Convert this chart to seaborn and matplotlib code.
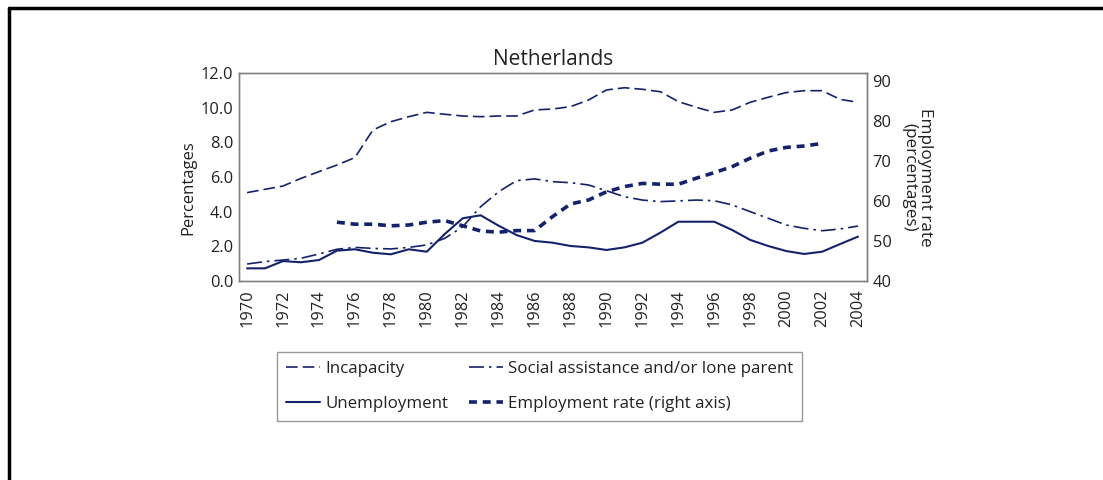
import numpy as np
import pandas as pd
import matplotlib
matplotlib.use("Agg")
import matplotlib.pyplot as plt
from matplotlib.lines import Line2D
import seaborn as sns

# Netherlands: benefit recipients (% of working-age population) and employment rate
years = list(range(1970, 2005))

incapacity = [5.10, 5.29, 5.48, 5.92, 6.31, 6.69, 7.12, 8.71, 9.19, 9.48,
              9.73, 9.62, 9.52, 9.48, 9.52, 9.52, 9.87, 9.92, 10.06, 10.44,
              11.02, 11.15, 11.06, 10.92, 10.35, 10.02, 9.73, 9.87, 10.31, 10.60,
              10.87, 10.98, 10.98, 10.48, 10.31]

social_assistance = [0.98, 1.12, 1.21, 1.31, 1.56, 1.83, 1.94, 1.88, 1.85, 1.94,
                     2.08, 2.46, 3.13, 4.29, 5.15, 5.79, 5.89, 5.73, 5.67, 5.54,
                     5.21, 4.86, 4.67, 4.58, 4.62, 4.67, 4.63, 4.39, 4.00, 3.62,
                     3.23, 3.04, 2.90, 3.00, 3.17]

unemployment = [0.73, 0.73, 1.15, 1.08, 1.21, 1.75, 1.83, 1.63, 1.54, 1.83,
                1.69, 2.71, 3.62, 3.79, 3.19, 2.65, 2.31, 2.21, 2.02, 1.94,
                1.79, 1.94, 2.21, 2.79, 3.42, 3.42, 3.42, 2.94, 2.37, 2.02,
                1.73, 1.56, 1.69, 2.13, 2.56]

emp_years = list(range(1975, 2003))
employment_rate = [54.7, 54.2, 54.2, 53.8, 54.0, 54.7, 55.1, 53.8, 52.5, 52.2,
                   52.6, 52.6, 56.1, 59.25, 60.25, 62.3, 63.6, 64.4, 64.2, 64.2,
                   65.7, 67.1, 68.6, 70.7, 72.5, 73.4, 73.75, 74.4]

labels = ["Incapacity", "Social assistance and/or lone parent",
          "Unemployment", "Employment rate (right axis)"]

left_df = pd.DataFrame({
    "year": years * 3,
    "value": incapacity + social_assistance + unemployment,
    "series": [labels[0]] * len(years) + [labels[1]] * len(years) + [labels[2]] * len(years),
})
right_df = pd.DataFrame({"year": emp_years, "value": employment_rate,
                         "series": labels[3]})

sns.set_style("white")
plt.rcParams["font.family"] = ["Open Sans", "DejaVu Sans"]

navy = "#14226b"
gray = "#808080"
txt = "#222222"

fig = plt.figure(figsize=(11.03, 4.80), dpi=100)
ax = fig.add_axes([239 / 1103, 1 - 281 / 480, (867 - 239) / 1103, (281 - 73) / 480])
ax2 = ax.twinx()

styles = {
    labels[0]: dict(lw=1.2, dashes=(7, 3)),
    labels[1]: dict(lw=1.2, dashes=(9, 3, 1.5, 3)),
    labels[2]: dict(lw=1.5, dashes=()),
}
for name in labels[:3]:
    sub = left_df[left_df["series"] == name]
    st = styles[name]
    sns.lineplot(data=sub, x="year", y="value", ax=ax, color=navy,
                 lw=st["lw"], legend=False)
    ln = ax.lines[-1]
    if st["dashes"]:
        ln.set_dashes(st["dashes"])
    ln.set_label(name)

sns.lineplot(data=right_df, x="year", y="value", ax=ax2, color=navy,
             lw=2.6, legend=False)
ax2.lines[-1].set_dashes((2.2, 1.6))
ax2.lines[-1].set_label(labels[3])

ax.set_xlim(1969.55, 2004.5)
ax.set_ylim(0, 12)
ax2.set_ylim(40, 92)

ax.set_xticks(range(1970, 2005, 2))
ax.set_xticklabels([str(y) for y in range(1970, 2005, 2)], rotation=90)
ax.set_yticks(np.arange(0, 12.1, 2))
ax.set_yticklabels([f"{v:.1f}" for v in np.arange(0, 12.1, 2)])
ax2.set_yticks(range(40, 91, 10))

for a in (ax, ax2):
    for s in a.spines.values():
        s.set_color(gray)
        s.set_linewidth(1.0)
        s.set_visible(True)
    a.tick_params(labelsize=11.8, colors=txt, length=0, pad=4)
ax.tick_params(axis="x", length=3, color=gray, direction="out", pad=3)
ax.grid(False)
ax2.grid(False)

ax.set_xlabel("")
ax.set_ylabel("Percentages", fontsize=12, color=txt, labelpad=4)
ax.yaxis.set_label_coords(-0.068, 0.45)
ax2.set_ylabel("Employment rate\n(percentages)", fontsize=12.3, color=txt,
               rotation=270, labelpad=30, linespacing=0.95)
ax.set_title("Netherlands", fontsize=15, color=txt, pad=6)

handles = [ax.lines[0], ax.lines[2], ax.lines[1], ax2.lines[0]]
handles_lbl = [labels[0], labels[2], labels[1], labels[3]]
leg = fig.legend(handles, handles_lbl, ncol=2, loc="upper left",
                 bbox_to_anchor=(277 / 1103, 1 - 352 / 480),
                 frameon=True, fancybox=False, edgecolor=gray,
                 fontsize=12.2, handlelength=2.0, handletextpad=0.3,
                 columnspacing=1.2, labelspacing=1.1, borderpad=0.55,
                 borderaxespad=0)
leg.get_frame().set_linewidth(1.0)
for t in leg.get_texts():
    t.set_color(txt)

# outer frame along the top and left edges
fig.add_artist(Line2D([9 / 1103, 1.0], [1 - 8 / 480] * 2, color="black",
                      lw=2.5, transform=fig.transFigure))
fig.add_artist(Line2D([9 / 1103] * 2, [0.0, 1 - 8 / 480], color="black",
                      lw=2.5, transform=fig.transFigure))

fig.savefig("out.png", dpi=100)
